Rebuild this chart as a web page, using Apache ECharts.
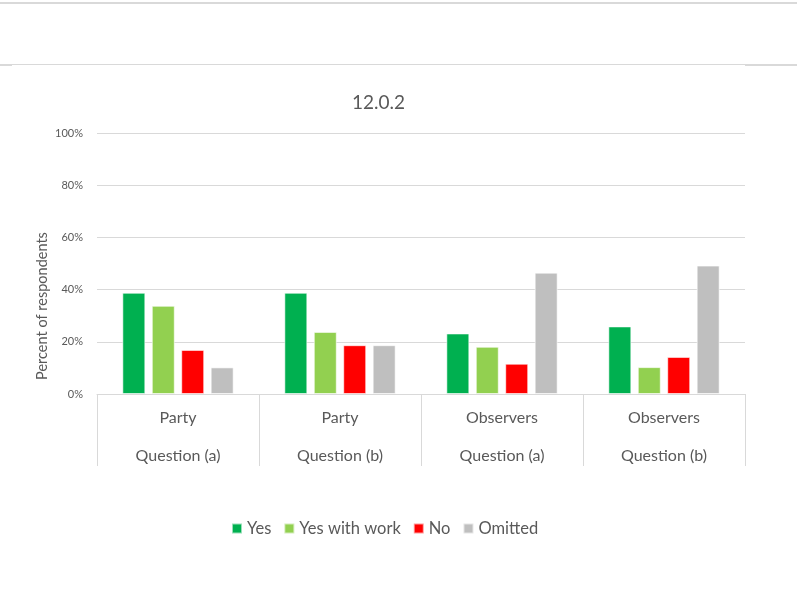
<!DOCTYPE html>
<html><head><meta charset="utf-8">
<script src="https://cdn.jsdelivr.net/npm/echarts@6/dist/echarts.min.js"></script>
<style>html,body{margin:0;padding:0;background:#fff}#c{width:797px;height:592px}</style>
</head><body><div id="c"></div>
<script>
const categories = ["Party\n\nQuestion (a)", "Party\n\nQuestion (b)", "Observers\n\nQuestion (a)", "Observers\n\nQuestion (b)"];
const seriesNames = ["Yes", "Yes with work", "No", "Omitted"];
const yesVals = [38.8, 38.8, 23.2, 25.9];
const yesWorkVals = [33.8, 23.8, 18.1, 10.3];
const noVals = [16.9, 18.7, 11.6, 14.2];
const omittedVals = [10.2, 18.7, 46.5, 49.2];
const colors = ["#00b050", "#92d050", "#ff0000", "#bfbfbf"];
const yTicks = [0, 20, 40, 60, 80, 100];
const yAxisTitle = "Percent of respondents";

const FONT = "Lato";
const chart = echarts.init(document.getElementById('c'));
const allVals = [yesVals, yesWorkVals, noVals, omittedVals];
chart.setOption({
  animation: false,
  textStyle: {fontFamily: FONT},
  title: {text: "12.0.2", left: 347, top: 88,
    textStyle: {fontFamily: FONT, fontSize: 19, fontWeight: 'normal', color: '#595959'}},
  legend: {top: 515, left: 226, itemWidth: 10, itemHeight: 10, itemGap: 12,
    icon: 'rect',
    textStyle: {fontFamily: FONT, fontSize: 16.5, color: '#595959', padding: [0,0,0,0]},
    data: seriesNames},
  grid: {left: 97, right: 52, top: 133, bottom: 198, containLabel: false},
  xAxis: {type: 'category', data: categories,
    axisLine: {lineStyle: {color: '#d9d9d9', width: 1}},
    axisTick: {show: true, length: 72, interval: 0, lineStyle: {color: '#d9d9d9'}},
    axisLabel: {fontFamily: FONT, fontSize: 16, color: '#595959', lineHeight: 19, margin: 14, interval: 0}},
  yAxis: {type: 'value', min: 0, max: 100, interval: 20,
    axisLine: {show: false}, axisTick: {show: false},
    axisLabel: {fontFamily: FONT, fontSize: 11, color: '#595959', margin: 14,
      formatter: v => yTicks.includes(v) ? v + '%' : ''},
    splitLine: {lineStyle: {color: '#d9d9d9', width: 1}}},
  series: seriesNames.map((n, i) => ({
    name: n, type: 'bar', data: allVals[i], barWidth: 23, barGap: '28%',
    itemStyle: {color: colors[i], borderColor: 'rgba(255,255,255,0.6)', borderWidth: 1}
  })),
  graphic: [
    {type: 'rect', shape: {x: 0, y: 2, width: 797, height: 2}, style: {fill: '#d9d9d9'}},
    {type: 'rect', shape: {x: 0, y: 64, width: 797, height: 1}, style: {fill: '#d9d9d9'}},
    {type: 'rect', shape: {x: 0, y: 65, width: 12, height: 1}, style: {fill: '#d9d9d9'}},
    {type: 'rect', shape: {x: 745, y: 65, width: 52, height: 1}, style: {fill: '#d9d9d9'}},
    {type: 'text', x: 42, y: 306, rotation: Math.PI / 2,
      style: {text: yAxisTitle, fontFamily: FONT, fontSize: 14.5, fill: '#595959',
        textAlign: 'center', textVerticalAlign: 'middle'}}
  ]
});
</script></body></html>
